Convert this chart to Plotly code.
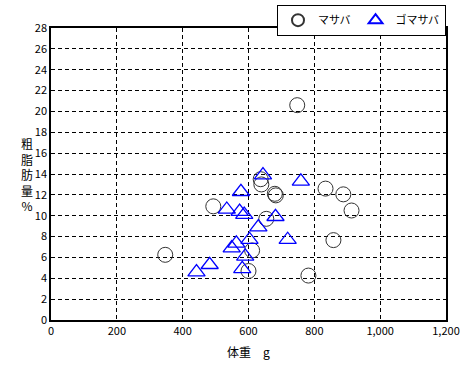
import plotly.graph_objects as go

# マサバ (chub mackerel): body weight (g), crude fat (%)
masaba_weight = [748, 347, 493, 637, 639, 680, 683, 654, 611, 600, 834, 888, 913, 858, 782]
masaba_fat = [20.6, 6.25, 10.9, 13.5, 13.0, 12.1, 11.95, 9.7, 6.67, 4.7, 12.6, 12.05, 10.5, 7.66, 4.26]

# ゴマサバ (blue mackerel)
gomasaba_weight = [644, 759, 577, 534, 573, 587, 682, 630, 719, 603, 563, 549, 590, 581, 482, 442]
gomasaba_fat = [14.1, 13.5, 12.5, 10.8, 10.6, 10.3, 10.1, 9.1, 7.9, 7.9, 7.55, 7.1, 6.3, 5.1, 5.5, 4.8]

x_ticks = [0, 200, 400, 600, 800, 1000, 1200]
y_ticks = list(range(0, 29, 2))

FONT = "Noto Sans CJK JP, Liberation Sans, sans-serif"

fig = go.Figure()
fig.add_trace(go.Scatter(
    x=masaba_weight, y=masaba_fat, mode="markers", name="マサバ",
    marker=dict(symbol="circle-open", size=15, color="#333333", line=dict(width=1, color="#333333")),
))
fig.add_trace(go.Scatter(
    x=gomasaba_weight, y=[v - 0.2 for v in gomasaba_fat], mode="markers", name="ゴマサバ",
    marker=dict(symbol="triangle-up-open", size=15, color="#0000FF", line=dict(width=1.3, color="#0000FF")),
))

fig.update_layout(
    width=468, height=367,
    margin=dict(l=51, r=22, t=28, b=47, autoexpand=False),
    paper_bgcolor="white", plot_bgcolor="white",
    font=dict(family=FONT, size=11, color="black"),
    showlegend=True,
    legend=dict(
        orientation="h", x=1.0, xanchor="right", y=1.08, yanchor="top",
        bordercolor="black", borderwidth=1, bgcolor="white",
        font=dict(size=11, family=FONT), itemwidth=30,
        tracegroupgap=0, itemsizing="constant",
    ),
    xaxis=dict(
        range=[0, 1200], tickvals=x_ticks, tickformat=",", automargin=False,
        showline=True, linecolor="black", linewidth=1.5, mirror=True,
        showgrid=True, gridcolor="black", gridwidth=1, griddash="4px,3px",
        zeroline=False, ticks="", ticklen=0,
        title=dict(text="体重　g", font=dict(size=12), standoff=12),
    ),
    yaxis=dict(
        range=[0, 28], tickvals=y_ticks, automargin=False,
        showline=True, linecolor="black", linewidth=1.5, mirror=True,
        showgrid=True, gridcolor="black", gridwidth=1, griddash="4px,3px",
        zeroline=False, ticks="", ticklen=0,
    ),
    annotations=[dict(
        text="粗<br>脂<br>肪<br>量<br>%", xref="paper", yref="paper",
        x=-0.062, y=0.5, xanchor="center", yanchor="middle",
        showarrow=False, font=dict(size=12, family=FONT),
    )],
)

fig.write_html("out.html", config={"displayModeBar": False},
               post_script="document.body.style.margin='0';")
